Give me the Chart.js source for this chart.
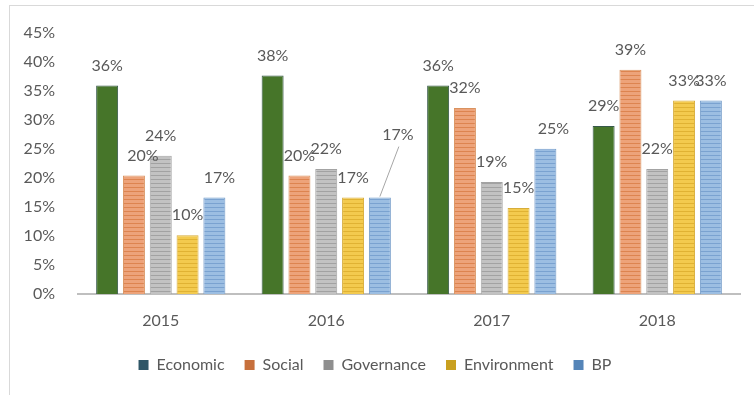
<!DOCTYPE html>
<html>
<head>
<meta charset="utf-8">
<script src="https://cdn.jsdelivr.net/npm/chart.js@4.4.1/dist/chart.umd.min.js"></script>
<style>
  html, body { margin: 0; padding: 0; background: #fff; }
  #wrap { position: relative; width: 754px; height: 395px; overflow: hidden; }
  #frame { position: absolute; left: 9px; top: 5px; width: 800px; height: 500px;
           border-left: 1px solid #d9d9d9; border-top: 1px solid #d9d9d9; }
  canvas { position: absolute; left: 0; top: 0; }
</style>
</head>
<body>
<div id="wrap">
  <div id="frame"></div>
  <canvas id="chart" width="754" height="395"></canvas>
</div>
<script>
const years = ['2015', '2016', '2017', '2018'];
const seriesNames = ['Economic', 'Social', 'Governance', 'Environment', 'BP'];

const economic    = [0.359, 0.376, 0.359, 0.289];
const social      = [0.204, 0.204, 0.32, 0.386];
const governance  = [0.238, 0.215, 0.193, 0.215];
const environment = [0.101, 0.166, 0.148, 0.333];
const bp          = [0.166, 0.166, 0.25, 0.333];

const yTicks = [0, 0.05, 0.1, 0.15, 0.2, 0.25, 0.3, 0.35, 0.4, 0.45];

const legendColors = ['#2f5667', '#c7703c', '#8f8f8f', '#c9a020', '#5585b8'];
const borderColors = ['#37594a', '#d9925f', '#a3a3a3', '#d7ad3a', '#729bc9'];

// label nudges (dataset index, category index) for the few labels Excel moved
const nudges = {
  '1,0': { dx: 9, dy: 0 },
  '4,0': { dx: 5, dy: 0 },
  '4,2': { dx: 8, dy: 0 },
  '4,1': { dx: 18, dy: -43, leader: true }
};

const FONT = 'Lato, "Open Sans", sans-serif';
const TEXT = '#595959';

function stripes(light, dark) {
  const c = document.createElement('canvas');
  c.width = 4; c.height = 4;
  const g = c.getContext('2d');
  g.fillStyle = light; g.fillRect(0, 0, 4, 4);
  g.fillStyle = dark; g.fillRect(0, 3, 4, 1);
  return g.createPattern(c, 'repeat');
}

const fills = [
  '#467529',
  stripes('#eda37a', '#dd8450'),
  stripes('#c2c2c2', '#a2a2a2'),
  stripes('#f3ca4e', '#e0b233'),
  stripes('#9cbee2', '#7aa2d0')
];

const seriesData = [economic, social, governance, environment, bp];

const datasets = seriesNames.map((name, i) => ({
  label: name,
  data: seriesData[i],
  backgroundColor: fills[i],
  borderColor: borderColors[i],
  borderWidth: 1,
  categoryPercentage: 0.81,
  barPercentage: 0.82
}));

const valueLabels = {
  id: 'valueLabels',
  afterDatasetsDraw(chart) {
    const ctx = chart.ctx;
    ctx.save();
    ctx.font = '16px ' + FONT;
    ctx.fillStyle = TEXT;
    ctx.textAlign = 'center';
    ctx.textBaseline = 'middle';
    chart.data.datasets.forEach((ds, di) => {
      chart.getDatasetMeta(di).data.forEach((bar, i) => {
        const n = nudges[di + ',' + i] || { dx: 0, dy: 0 };
        const x = bar.x + n.dx;
        const y = bar.y - 20 + n.dy;
        if (n.leader) {
          ctx.strokeStyle = '#a6a6a6';
          ctx.lineWidth = 1;
          ctx.beginPath();
          ctx.moveTo(bar.x, bar.y - 1);
          ctx.lineTo(x + 1, y + 12);
          ctx.stroke();
        }
        ctx.fillText(Math.round(ds.data[i] * 100) + '%', x, y);
      });
    });
    ctx.restore();
  }
};

new Chart(document.getElementById('chart'), {
  type: 'bar',
  data: { labels: years, datasets: datasets },
  options: {
    responsive: false,
    animation: false,
    layout: { padding: { left: 10, right: 14, top: 28, bottom: 12 } },
    scales: {
      x: {
        grid: { display: false, drawTicks: false },
        border: { color: '#bfbfbf', width: 2 },
        ticks: { color: TEXT, font: { family: FONT, size: 16 }, padding: 17 },
        afterFit: (s) => { s.height = 43; }
      },
      y: {
        min: 0,
        max: 0.45,
        grid: { display: false, drawTicks: false },
        border: { display: false },
        afterBuildTicks: (s) => { s.ticks = yTicks.map(v => ({ value: v })); },
        ticks: {
          color: TEXT,
          font: { family: FONT, size: 16 },
          padding: 23,
          callback: (v) => Math.round(v * 100) + '%'
        },
        afterFit: (s) => { s.width = 68; }
      }
    },
    plugins: {
      tooltip: { enabled: false },
      legend: {
        position: 'bottom',
        labels: {
          color: TEXT,
          font: { family: FONT, size: 16 },
          boxWidth: 10,
          boxHeight: 10,
          padding: 20,
          generateLabels: (chart) => chart.data.datasets.map((ds, i) => ({
            text: ds.label,
            fillStyle: legendColors[i],
            strokeStyle: legendColors[i],
            lineWidth: 0,
            datasetIndex: i,
            fontColor: TEXT
          }))
        }
      }
    }
  },
  plugins: [valueLabels]
});
</script>
</body>
</html>
